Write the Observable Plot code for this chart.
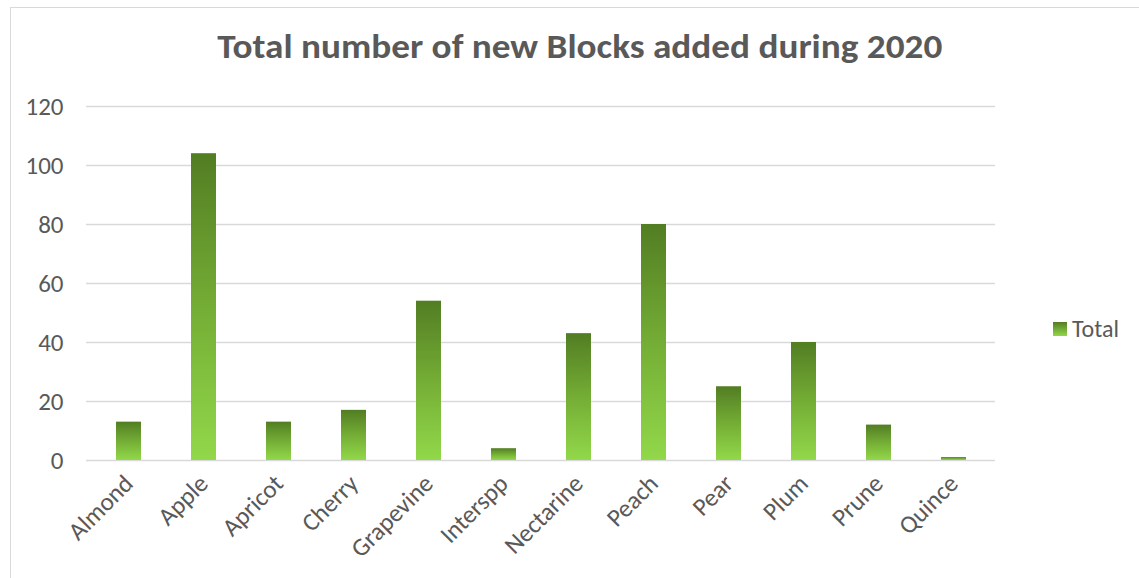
<!DOCTYPE html>
<html>
<head>
<meta charset="utf-8">
<script src="https://cdn.jsdelivr.net/npm/d3@7"></script>
<script src="https://cdn.jsdelivr.net/npm/@observablehq/plot@0.6"></script>
<style>
  html, body { margin: 0; padding: 0; background: #fff; }
  #wrap { position: relative; width: 1139px; height: 578px; overflow: hidden; font-family: Carlito, "Open Sans", sans-serif; color: #595959; }
  #frame { position: absolute; left: 10px; top: 7px; width: 1200px; height: 600px; border: 1.5px solid #d9d9d9; box-sizing: border-box; }
  #title { position: absolute; top: 25px; left: 0; width: 1160px; text-align: center; font-weight: 700; font-size: 35px; white-space: nowrap; }
  #title span { display: inline-block; transform-origin: center; }
  #legend { position: absolute; left: 1053px; top: 314px; display: flex; align-items: center; font-size: 24px; }
  #legend i { display: inline-block; width: 14px; height: 14px; margin-right: 5px; background: linear-gradient(to bottom, #527d23, #92d84a); }
  #chart { position: absolute; left: 0; top: 0; }
</style>
</head>
<body>
<div id="wrap">
  <div id="frame"></div>
  <div id="chart"></div>
  <div id="title"><span>Total number of new Blocks added during 2020</span></div>
  <div id="legend"><i></i><span>Total</span></div>
</div>
<script>
const categories = ["Almond", "Apple", "Apricot", "Cherry", "Grapevine", "Interspp", "Nectarine", "Peach", "Pear", "Plum", "Prune", "Quince"];
const totals = [13, 104, 13, 17, 54, 4, 43, 80, 25, 40, 12, 1];
const yTicks = [0, 20, 40, 60, 80, 100, 120];

const data = categories.map((c, i) => ({category: c, total: totals[i]}));

const plot = Plot.plot({
  width: 1139,
  height: 578,
  marginLeft: 86,
  marginRight: 144,
  marginTop: 106,
  marginBottom: 118,
  style: {fontFamily: 'Carlito, "Open Sans", sans-serif', fontSize: "25px", color: "#595959", background: "transparent", overflow: "visible"},
  x: {domain: categories, paddingInner: 0.67, paddingOuter: 0.335, label: null},
  y: {domain: [0, 120], ticks: yTicks, label: null},
  marks: [
    Plot.gridY(yTicks, {stroke: "#d9d9d9", strokeOpacity: 1, strokeWidth: 1.5}),
    Plot.barY(data, {x: "category", y: "total", fill: "url(#barGrad)"}),
    Plot.axisY(yTicks, {tickSize: 0, tickPadding: 23, fill: "#595959", fontSize: 25, tickFormat: d => String(d)}),
    Plot.axisX({tickSize: 0, tickPadding: 19, tickRotate: -45, fill: "#595959", fontSize: 25})
  ]
});

const svg = d3.select(plot);
const defs = svg.insert("defs", ":first-child");
const grad = defs.append("linearGradient").attr("id", "barGrad").attr("x1", 0).attr("y1", 0).attr("x2", 0).attr("y2", 1);
grad.append("stop").attr("offset", "0%").attr("stop-color", "#527d23");
grad.append("stop").attr("offset", "50%").attr("stop-color", "#74ad35");
grad.append("stop").attr("offset", "100%").attr("stop-color", "#92d84a");

document.getElementById("chart").appendChild(plot);

// fit title width to reference
const t = document.querySelector("#title span");
const w = t.getBoundingClientRect().width;
t.style.transform = `scaleX(${725 / w})`;
</script>
</body>
</html>
